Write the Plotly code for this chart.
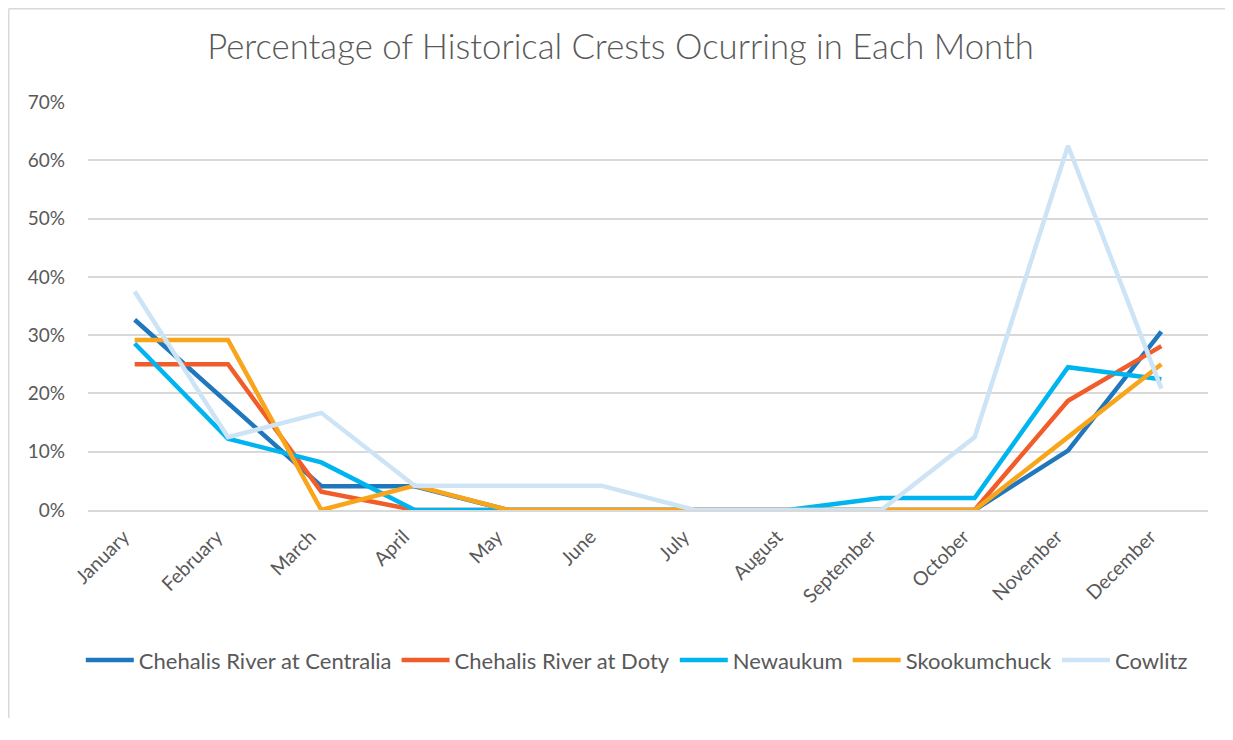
import plotly.graph_objects as go

months = ['January', 'February', 'March', 'April', 'May', 'June', 'July',
          'August', 'September', 'October', 'November', 'December']

centralia = [0.3265, 0.1837, 0.0408, 0.0408, 0, 0, 0, 0, 0, 0, 0.1020, 0.3061]
doty = [0.25, 0.25, 0.03125, 0, 0, 0, 0, 0, 0, 0, 0.1875, 0.28125]
newaukum = [0.2857, 0.1224, 0.0816, 0, 0, 0, 0, 0, 0.0204, 0.0204, 0.2449, 0.2245]
skookumchuck = [0.2917, 0.2917, 0, 0.0417, 0, 0, 0, 0, 0, 0, 0.125, 0.25]
cowlitz = [0.375, 0.125, 0.1667, 0.0417, 0.0417, 0.0417, 0, 0, 0, 0.125, 0.625, 0.2083]

series = [
    ('Chehalis River at Centralia', centralia, '#1F77BE'),
    ('Chehalis River at Doty', doty, '#F15D2A'),
    ('Newaukum', newaukum, '#00B5EF'),
    ('Skookumchuck', skookumchuck, '#F8A51C'),
    ('Cowlitz', cowlitz, '#CDE4F6'),
]

txt = '#595959'
fnt = 'Lato, Liberation Sans, sans-serif'

fig = go.Figure()
for name, vals, col in series:
    fig.add_trace(go.Scatter(x=months, y=vals, name=name, mode='lines',
                             line=dict(color=col, width=4.5)))

# page body has an 8px margin, so the figure is a bit smaller than the window
W, H = 1225, 710
fig.update_layout(
    width=W, height=H,
    paper_bgcolor='white', plot_bgcolor='white',
    margin=dict(l=80, r=25, t=94, b=H - 502),
    font=dict(family=fnt, color=txt),
    title=dict(text='Percentage of Historical Crests Ocurring in Each Month',
               x=612.5 / W, xanchor='center', y=1 - 39 / H, yanchor='middle',
               font=dict(size=34.7, color=txt, family=fnt, weight=300)),
    legend=dict(orientation='h', x=0.49, xanchor='center', y=-0.368, yanchor='middle',
                font=dict(size=22, color=txt), itemwidth=48, tracegroupgap=0),
    showlegend=True,
)
fig.update_yaxes(range=[0, 0.7], dtick=0.1, tickformat='.0%', showgrid=True,
                 gridcolor='#D9D9D9', gridwidth=1.5, zeroline=False,
                 showline=False, tickfont=dict(size=19, color=txt),
                 ticklabelstandoff=22)
fig.update_xaxes(range=[-0.5, 11.5], showgrid=False, showline=True,
                 linecolor='#D9D9D9', linewidth=1.5,
                 tickangle=-45, tickfont=dict(size=19.5, color=txt),
                 ticklabelstandoff=6, ticklabelshift=-11)

# chart border: only the left and top edges fall inside the window
border = dict(color='#D9D9D9', width=1.5)
fig.add_shape(type='line', xref='paper', yref='paper', x0=-0.0708, x1=-0.0708,
              y0=-1.0, y1=1.2286, line=border, layer='below')
fig.add_shape(type='line', xref='paper', yref='paper', x0=-0.0708, x1=1.3,
              y0=1.2286, y1=1.2286, line=border, layer='below')

fig.write_html('out.html')
